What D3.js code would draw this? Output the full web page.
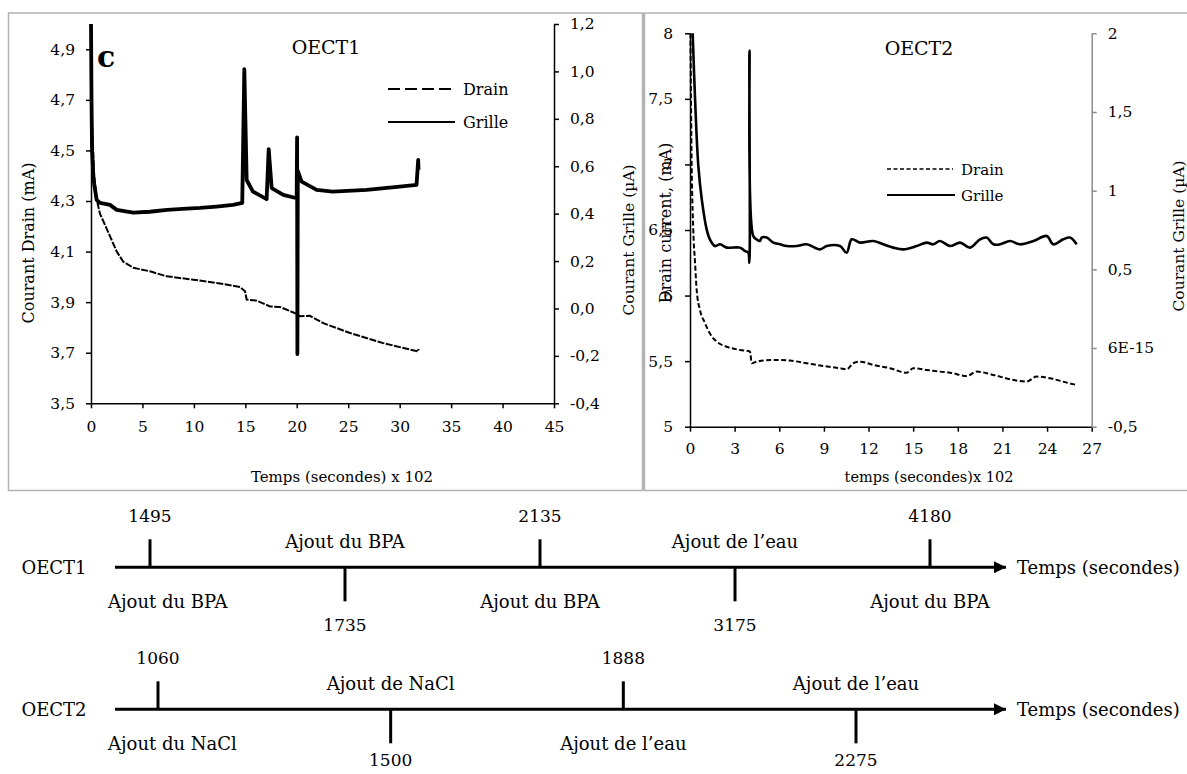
<!DOCTYPE html>
<html>
<head>
<meta charset="utf-8">
<script src="https://cdn.jsdelivr.net/npm/d3@7"></script>
<style>
  html, body { margin: 0; padding: 0; background: #fff; }
  svg text { font-family: "DejaVu Serif", "Liberation Serif", serif; fill: #000; }
</style>
</head>
<body>
<svg id="chart" width="1187" height="774"></svg>
<script>
// ---------------- DATA ----------------
// OECT1 (time in s x 10^2)
const drain1T = [0, 0.1, 0.29, 0.53, 0.87, 1.53, 2.5, 3.14, 4.11, 5.73, 7.36, 9.94, 12.22, 14.48, 14.97, 15.13, 16.1, 17.4, 18.37, 19.99, 20.31, 21.28, 22.58, 25.17, 28.4, 31.78, 31.83];
const drain1V = [5.0, 4.62, 4.41, 4.31, 4.25, 4.19, 4.10, 4.06, 4.036, 4.022, 4.002, 3.989, 3.976, 3.96, 3.943, 3.91, 3.906, 3.883, 3.881, 3.854, 3.844, 3.846, 3.817, 3.778, 3.738, 3.705, 3.715];
const grille1T = [0, 0.05, 0.1, 0.25, 0.55, 0.87, 1.85, 2.5, 4.1, 5.7, 7.4, 8.9, 10.6, 12.2, 13.8, 14.7, 14.9, 15.13, 15.74, 17.07, 17.27, 17.56, 18.69, 19.99, 20.03, 20.06, 20.1, 20.47, 21.93, 23.5, 26.8, 30.0, 31.64, 31.8, 31.83];
const grille1V = [1.2, 0.88, 0.668, 0.542, 0.458, 0.445, 0.437, 0.416, 0.404, 0.408, 0.416, 0.42, 0.424, 0.43, 0.437, 0.445, 1.01, 0.542, 0.493, 0.461, 0.672, 0.508, 0.479, 0.465, 0.722, -0.192, 0.58, 0.535, 0.5, 0.493, 0.5, 0.514, 0.521, 0.627, 0.585];

// OECT2
const drain2T = [0.03, 0.1, 0.22, 0.34, 0.45, 0.67, 1.01, 1.34, 1.79, 2.47, 3.36, 4.03, 4.15, 4.48, 5.6, 6.72, 7.84, 8.96, 10.08, 10.53, 10.98, 11.43, 12.32, 13.44, 14.57, 15.01, 15.91, 16.8, 17.48, 18.6, 19.27, 20.39, 21.51, 22.63, 23.3, 24.2, 25.32, 25.99];
const drain2V = [8.0, 7.11, 6.5, 6.25, 6.04, 5.89, 5.79, 5.71, 5.65, 5.61, 5.585, 5.573, 5.484, 5.496, 5.509, 5.504, 5.484, 5.463, 5.446, 5.438, 5.484, 5.496, 5.471, 5.446, 5.412, 5.446, 5.433, 5.42, 5.412, 5.387, 5.42, 5.395, 5.362, 5.344, 5.382, 5.369, 5.336, 5.318];
const grille2T = [0.18, 0.34, 0.56, 0.79, 1.12, 1.34, 1.68, 2.02, 2.47, 3.36, 3.7, 3.92, 3.99, 4.0, 4.25, 4.48, 4.7, 4.82, 5.16, 5.6, 6.05, 6.5, 7.17, 7.84, 8.74, 9.19, 10.08, 10.53, 10.87, 11.43, 12.32, 12.99, 13.66, 14.34, 15.24, 15.91, 16.35, 16.8, 17.48, 18.15, 18.82, 19.49, 19.94, 20.39, 20.84, 21.51, 22.18, 23.08, 23.98, 24.42, 25.09, 25.54, 25.99];
const grille2V = [2.0, 1.583, 1.158, 0.946, 0.754, 0.69, 0.648, 0.659, 0.638, 0.638, 0.616, 0.606, 0.542, 1.89, 0.712, 0.69, 0.68, 0.702, 0.702, 0.67, 0.659, 0.648, 0.648, 0.659, 0.627, 0.648, 0.648, 0.606, 0.691, 0.67, 0.68, 0.659, 0.638, 0.627, 0.648, 0.67, 0.659, 0.68, 0.648, 0.67, 0.638, 0.691, 0.702, 0.659, 0.659, 0.68, 0.659, 0.68, 0.712, 0.659, 0.691, 0.702, 0.659];

// Tick values / labels
const x1Ticks = [0, 5, 10, 15, 20, 25, 30, 35, 40, 45];
const y1LTicks = [3.5, 3.7, 3.9, 4.1, 4.3, 4.5, 4.7, 4.9];
const y1RTicks = [-0.4, -0.2, 0.0, 0.2, 0.4, 0.6, 0.8, 1.0, 1.2];
const x2Ticks = [0, 3, 6, 9, 12, 15, 18, 21, 24, 27];
const y2LTicks = [5, 5.5, 6, 6.5, 7, 7.5, 8];
const y2LLabels = ["5", "5,5", "6", "6,5", "7", "7,5", "8"];
const y2RTicks = [-0.5, 0, 0.5, 1, 1.5, 2];
const y2RLabels = ["-0,5", "6E-15", "0,5", "1", "1,5", "2"];

// Timelines
const tl1Times = [1495, 1735, 2135, 3175, 4180];
const tl1Labels = ["Ajout du BPA", "Ajout du BPA", "Ajout du BPA", "Ajout de l\u2019eau", "Ajout du BPA"];
const tl2Times = [1060, 1500, 1888, 2275];
const tl2Labels = ["Ajout du NaCl", "Ajout de NaCl", "Ajout de l\u2019eau", "Ajout de l\u2019eau"];

// ---------------- DRAWING ----------------
const svg = d3.select("#chart");
const comma1 = v => d3.format(".1f")(v).replace("\u2212", "-").replace(".", ",");

// Panel frames
svg.append("rect").attr("x", 8.5).attr("y", 13).attr("width", 634).attr("height", 477.5)
  .attr("fill", "none").attr("stroke", "#b3b3b3").attr("stroke-width", 1.5);
svg.append("rect").attr("x", 644.5).attr("y", 13).attr("width", 560).attr("height", 477.5)
  .attr("fill", "none").attr("stroke", "#b3b3b3").attr("stroke-width", 1.5);
svg.append("line").attr("x1", 643.5).attr("x2", 643.5).attr("y1", 13).attr("y2", 490.5)
  .attr("stroke", "#b3b3b3").attr("stroke-width", 3);

function styleAxis(g, fs, color) {
  g.select(".domain").attr("stroke", color).attr("stroke-width", 1.5);
  g.selectAll(".tick line").attr("stroke", color).attr("stroke-width", 1.5);
  g.selectAll(".tick text").attr("font-family", "DejaVu Serif").attr("font-size", fs).attr("fill", "#000");
}

// ===== Chart 1 (OECT1) =====
const x1 = d3.scaleLinear().domain([0, 45]).range([91, 554]);
const y1L = d3.scaleLinear().domain([3.5, 5.0]).range([403.3, 24]);
const y1R = d3.scaleLinear().domain([-0.4, 1.2]).range([403.3, 24]);

svg.append("g").attr("transform", "translate(0,403.3)")
  .call(d3.axisBottom(x1).tickValues(x1Ticks).tickSize(5).tickSizeOuter(0).tickPadding(13).tickFormat(d3.format("d")))
  .call(g => styleAxis(g, "15.5px", "#000"));
svg.append("g").attr("transform", "translate(91,0)")
  .call(d3.axisLeft(y1L).tickValues(y1LTicks).tickSize(5).tickSizeOuter(0).tickPadding(11).tickFormat(comma1))
  .call(g => styleAxis(g, "15.5px", "#000"));
svg.append("g").attr("transform", "translate(554,0)")
  .call(d3.axisRight(y1R).tickValues(y1RTicks).tickSize(5).tickSizeOuter(0).tickPadding(11).tickFormat(comma1))
  .call(g => styleAxis(g, "15.5px", "#000"));

const drain1 = drain1T.map((t, i) => [t, drain1V[i]]);
const grille1 = grille1T.map((t, i) => [t, grille1V[i]]);
svg.append("path").datum(drain1)
  .attr("d", d3.line().x(d => x1(d[0])).y(d => y1L(d[1])))
  .attr("fill", "none").attr("stroke", "#000").attr("stroke-width", 2).attr("stroke-dasharray", "7,1.5");
svg.append("path").datum(grille1)
  .attr("d", d3.line().x(d => x1(d[0])).y(d => y1R(d[1])))
  .attr("fill", "none").attr("stroke", "#000").attr("stroke-width", 3.8).attr("stroke-linejoin", "round");

svg.append("text").attr("x", 326).attr("y", 54).attr("text-anchor", "middle").attr("font-size", "19px").text("OECT1");
svg.append("text").attr("x", 97).attr("y", 67).attr("font-size", "30px").attr("font-weight", "bold").text("c");
svg.append("text").attr("transform", "translate(34,243) rotate(-90)").attr("text-anchor", "middle")
  .attr("font-size", "16px").text("Courant Drain (mA)");
svg.append("text").attr("transform", "translate(634,240) rotate(-90)").attr("text-anchor", "middle")
  .attr("font-size", "15.5px").text("Courant Grille (\u00b5A)");
svg.append("text").attr("x", 342).attr("y", 482).attr("text-anchor", "middle")
  .attr("font-size", "15px").text("Temps (secondes) x 102");

// legend 1
svg.append("line").attr("x1", 388).attr("x2", 455).attr("y1", 89).attr("y2", 89)
  .attr("stroke", "#000").attr("stroke-width", 2).attr("stroke-dasharray", "12,5");
svg.append("text").attr("x", 463).attr("y", 95).attr("font-size", "16px").text("Drain");
svg.append("line").attr("x1", 388).attr("x2", 455).attr("y1", 122).attr("y2", 122)
  .attr("stroke", "#000").attr("stroke-width", 2);
svg.append("text").attr("x", 463).attr("y", 128).attr("font-size", "16px").text("Grille");

// ===== Chart 2 (OECT2) =====
const x2 = d3.scaleLinear().domain([0, 27]).range([690, 1091.7]);
const y2L = d3.scaleLinear().domain([5, 8]).range([426.7, 33.3]);
const y2R = d3.scaleLinear().domain([-0.5, 2]).range([426.7, 33.3]);

svg.append("g").attr("transform", "translate(0,426.7)")
  .call(d3.axisBottom(x2).tickValues(x2Ticks).tickSize(5).tickSizeOuter(0).tickPadding(11).tickFormat(d3.format("d")))
  .call(g => styleAxis(g, "15.5px", "#000"));
svg.append("g").attr("transform", "translate(690,0)")
  .call(d3.axisLeft(y2L).tickValues(y2LTicks).tickSize(5).tickSizeOuter(0).tickPadding(12)
    .tickFormat((d, i) => y2LLabels[i]))
  .call(g => styleAxis(g, "15.5px", "#000"));
svg.append("g").attr("transform", "translate(1091.7,0)")
  .call(d3.axisRight(y2R).tickValues(y2RTicks).tickSize(5).tickSizeOuter(0).tickPadding(11)
    .tickFormat((d, i) => y2RLabels[i]))
  .call(g => styleAxis(g, "15.5px", "#8c8c8c"));

const drain2 = drain2T.map((t, i) => [t, drain2V[i]]);
const grille2 = grille2T.map((t, i) => [t, grille2V[i]]);
svg.append("path").datum(drain2)
  .attr("d", d3.line().curve(d3.curveMonotoneX).x(d => x2(d[0])).y(d => y2L(d[1])))
  .attr("fill", "none").attr("stroke", "#000").attr("stroke-width", 2).attr("stroke-dasharray", "5,2.5");
svg.append("path").datum(grille2)
  .attr("d", d3.line().curve(d3.curveCatmullRom).x(d => x2(d[0])).y(d => y2R(d[1])))
  .attr("fill", "none").attr("stroke", "#000").attr("stroke-width", 2.6).attr("stroke-linejoin", "round");

svg.append("text").attr("x", 919).attr("y", 55).attr("text-anchor", "middle").attr("font-size", "19px").text("OECT2");
svg.append("text").attr("transform", "translate(671,223) rotate(-90)").attr("text-anchor", "middle")
  .attr("font-size", "16px").text("Drain current, (mA)");
svg.append("text").attr("transform", "translate(1184,236) rotate(-90)").attr("text-anchor", "middle")
  .attr("font-size", "15.5px").text("Courant Grille (\u00b5A)");
svg.append("text").attr("x", 929).attr("y", 482).attr("text-anchor", "middle")
  .attr("font-size", "14.5px").text("temps (secondes)x 102");

// legend 2
svg.append("line").attr("x1", 887).attr("x2", 953).attr("y1", 169).attr("y2", 169)
  .attr("stroke", "#000").attr("stroke-width", 1.6).attr("stroke-dasharray", "4,2.5");
svg.append("text").attr("x", 961).attr("y", 174.5).attr("font-size", "15px").text("Drain");
svg.append("line").attr("x1", 887).attr("x2", 955).attr("y1", 195).attr("y2", 195)
  .attr("stroke", "#000").attr("stroke-width", 1.8);
svg.append("text").attr("x", 961).attr("y", 200.5).attr("font-size", "15px").text("Grille");

// ===== Timelines =====
svg.append("defs").append("marker").attr("id", "arrow")
  .attr("viewBox", "0 0 10 10").attr("refX", 10).attr("refY", 5)
  .attr("markerWidth", 4).attr("markerHeight", 4).attr("markerUnits", "strokeWidth")
  .attr("orient", "auto")
  .append("path").attr("d", "M0,0 L10,5 L0,10 Z").attr("fill", "#000");

function timeline(yLine, name, times, labels, range, numBelow) {
  const sx = d3.scalePoint().domain(times.map(String)).range(range);
  const g = svg.append("g");
  g.append("line").attr("x1", 115).attr("x2", 1006).attr("y1", yLine).attr("y2", yLine)
    .attr("stroke", "#000").attr("stroke-width", 3).attr("marker-end", "url(#arrow)");
  g.append("text").attr("x", 54).attr("y", yLine + 6.5).attr("text-anchor", "middle")
    .attr("font-size", "18px").text(name);
  g.append("text").attr("x", 1017).attr("y", yLine + 6.5)
    .attr("font-size", "18px").text("Temps (secondes)");
  times.forEach((t, i) => {
    const x = sx(String(t));
    const up = i % 2 === 0;
    g.append("line").attr("x1", x).attr("x2", x)
      .attr("y1", up ? yLine - 28 : yLine).attr("y2", up ? yLine : yLine + 34)
      .attr("stroke", "#000").attr("stroke-width", 3);
    g.append("text").attr("x", x).attr("y", up ? yLine - 45 : yLine + numBelow)
      .attr("text-anchor", "middle").attr("font-size", "17px").text(String(t));
    const lbl = g.append("text").attr("font-size", "18px").text(labels[i])
      .attr("y", up ? yLine + 41 : yLine - 19.5);
    if (i === 0) lbl.attr("x", 108).attr("text-anchor", "start");
    else lbl.attr("x", x).attr("text-anchor", "middle");
  });
}
timeline(567.3, "OECT1", tl1Times, tl1Labels, [150, 930], 64);
timeline(709.3, "OECT2", tl2Times, tl2Labels, [158, 856], 57);
</script>
</body>
</html>
